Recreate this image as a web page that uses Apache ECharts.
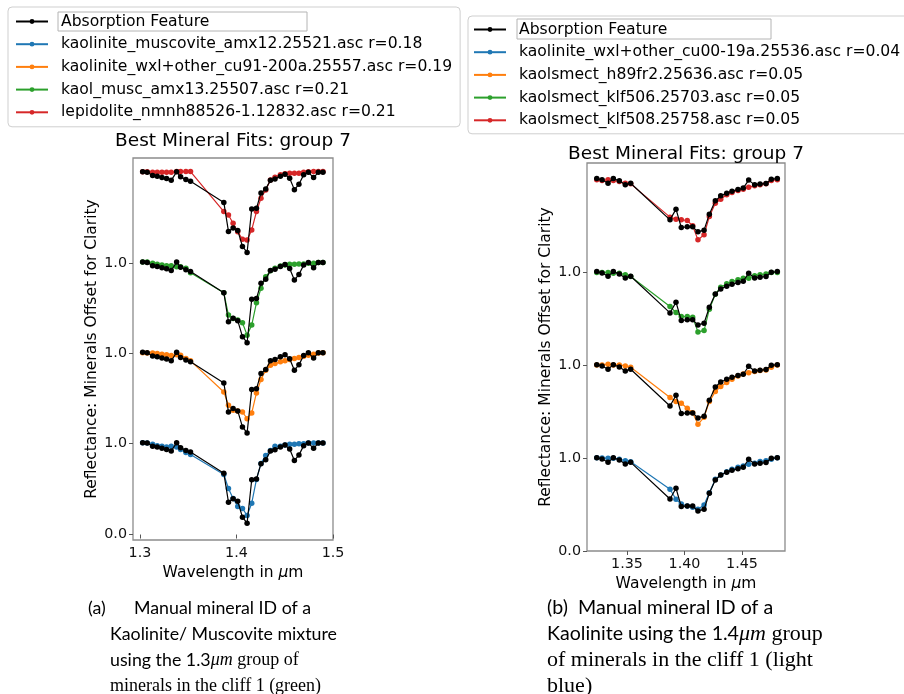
<!DOCTYPE html>
<html>
<head>
<meta charset="utf-8">
<script src="https://cdn.jsdelivr.net/npm/echarts@6/dist/echarts.min.js"></script>
<style>
  html, body { margin: 0; padding: 0; background: #fff; }
  #chart { width: 904px; height: 694px; }
</style>
</head>
<body>
<div id="chart"></div>
<script>
// ---- 1.3 µm group (panel a) ----
const wavelengthsA = [1.3028, 1.3075, 1.3131, 1.3179, 1.3228, 1.3276, 1.3324, 1.3380, 1.3421, 1.3476, 1.3524,
  1.3869, 1.3917, 1.3965, 1.4013, 1.4062, 1.4110, 1.4158, 1.4207, 1.4254, 1.4303, 1.4352, 1.4399,
  1.4455, 1.4503, 1.4551, 1.4600, 1.4647, 1.4696, 1.4745, 1.4799, 1.4848, 1.4896];
const featureA = [1.008, 1.003, 0.967, 0.959, 0.945, 0.934, 0.915, 1.008, 0.953, 0.923, 0.904,
  0.673, 0.355, 0.392, 0.366, 0.190, 0.124, 0.601, 0.608, 0.777, 0.821, 0.915, 0.931,
  0.959, 0.981, 0.937, 0.813, 0.871, 0.975, 1.003, 0.945, 1.003, 1.003];
const kaoliniteMuscoviteA = [1.008, 1.003, 0.989, 0.975, 0.967, 0.959, 0.967, 0.959, 0.934, 0.901, 0.879,
  0.659, 0.505, 0.396, 0.308, 0.286, 0.209, 0.344, 0.604, 0.780, 0.868, 0.923, 0.967,
  0.967, 0.981, 0.989, 0.989, 0.997, 0.997, 1.003, 1.003, 1.003, 1.003];
const kaoliniteWxlA = [1.005, 1.002, 1.002, 0.995, 0.988, 0.981, 0.973, 0.981, 0.977, 0.940, 0.915,
  0.574, 0.428, 0.373, 0.365, 0.354, 0.281, 0.343, 0.563, 0.710, 0.812, 0.867, 0.885,
  0.904, 0.915, 0.929, 0.940, 0.951, 0.966, 0.977, 0.988, 1.002, 1.005];
const kaolMuscA = [1.009, 1.009, 0.995, 0.984, 0.976, 0.968, 0.968, 0.957, 0.957, 0.940, 0.891,
  0.672, 0.427, 0.390, 0.372, 0.342, 0.207, 0.317, 0.562, 0.720, 0.848, 0.913, 0.940,
  0.965, 0.976, 0.984, 0.984, 0.987, 0.987, 0.995, 0.995, 1.005, 1.005];
const lepidoliteA = [1.008, 1.008, 1.005, 1.005, 1.005, 1.005, 1.005, 1.011, 1.011, 1.011, 1.011,
  0.572, 0.535, 0.444, 0.352, 0.268, 0.261, 0.371, 0.572, 0.719, 0.810, 0.920, 0.950,
  0.975, 0.986, 0.993, 0.993, 0.993, 1.005, 1.008, 1.011, 1.011, 1.011];
const namesA = [
  'kaolinite_muscovite_amx12.25521.asc r=0.18',
  'kaolinite_wxl+other_cu91-200a.25557.asc r=0.19',
  'kaol_musc_amx13.25507.asc r=0.21',
  'lepidolite_nmnh88526-1.12832.asc r=0.21'
];
const xTicksA = [1.3, 1.4, 1.5];

// ---- 1.4 µm group (panel b) ----
const wavelengthsB = [1.3237, 1.3283, 1.3335, 1.3381, 1.3433, 1.3485, 1.3532,
  1.3874, 1.3926, 1.3972, 1.4024, 1.4071, 1.4117, 1.4170, 1.4216, 1.4268, 1.4315,
  1.4367, 1.4413, 1.4465, 1.4511, 1.4558, 1.4610, 1.4657, 1.4709, 1.4755, 1.4807];
const featureB = [1.003, 0.989, 0.953, 1.003, 0.978, 0.935, 0.953,
  0.559, 0.674, 0.477, 0.484, 0.484, 0.430, 0.448, 0.620, 0.763, 0.817,
  0.846, 0.867, 0.885, 0.900, 0.986, 0.935, 0.943, 0.950, 0.996, 1.003];
const kaoliniteWxlB = [1.003, 1.000, 0.996, 0.996, 0.986, 0.971, 0.958,
  0.663, 0.556, 0.505, 0.484, 0.470, 0.448, 0.495, 0.627, 0.771, 0.817,
  0.853, 0.878, 0.900, 0.914, 0.932, 0.943, 0.961, 0.971, 0.986, 1.003];
const kaolsmectH89B = [1.000, 1.000, 1.007, 1.000, 1.000, 0.989, 0.975,
  0.649, 0.606, 0.588, 0.534, 0.487, 0.362, 0.437, 0.606, 0.713, 0.767,
  0.810, 0.846, 0.882, 0.903, 0.917, 0.928, 0.939, 0.946, 0.975, 1.000];
const kaolsmectKlf506B = [0.993, 0.993, 0.993, 0.986, 0.986, 0.968, 0.950,
  0.627, 0.563, 0.520, 0.520, 0.513, 0.355, 0.369, 0.599, 0.760, 0.835,
  0.871, 0.896, 0.914, 0.932, 0.932, 0.957, 0.968, 0.978, 0.993, 0.993];
const kaolsmectKlf508B = [0.989, 0.982, 0.989, 0.982, 0.971, 0.953, 0.946,
  0.588, 0.566, 0.559, 0.552, 0.495, 0.344, 0.398, 0.595, 0.738, 0.781,
  0.828, 0.853, 0.874, 0.889, 0.910, 0.925, 0.935, 0.946, 0.982, 0.989];
const namesB = [
  'kaolinite_wxl+other_cu00-19a.25536.asc r=0.04',
  'kaolsmect_h89fr2.25636.asc r=0.05',
  'kaolsmect_klf506.25703.asc r=0.05',
  'kaolsmect_klf508.25758.asc r=0.05'
];
const xTicksB = [1.35, 1.40, 1.45];

const featureName = 'Absorption Feature';
const mineralColors = ['#1f77b4', '#ff7f0e', '#2ca02c', '#d62728'];
const offsetA = 0.99;   // vertical spacing between stacked spectra, panel a
const offsetB = 1.0;    // panel b
const yTicksA = [0, 1, 1 + offsetA, 1 + 2 * offsetA];
const yTicksB = [0, 1, 2, 3];

const FONT = 'DejaVu Sans';

// shift a spectrum up by k offsets so the curves do not overlap
function stacked(wl, vals, k, off) {
  return wl.map((w, i) => [w, vals[i] + k * off]);
}

function lineSeries(name, color, data, axis, z) {
  return {
    type: 'line', name, data,
    xAxisIndex: axis, yAxisIndex: axis,
    symbol: 'circle', symbolSize: 5.5, showSymbol: true, showAllSymbol: true,
    lineStyle: { color, width: 1.2 },
    itemStyle: { color },
    emphasis: { disabled: true },
    z, animation: false
  };
}

const series = [];
const mineralsA = [kaoliniteMuscoviteA, kaoliniteWxlA, kaolMuscA, lepidoliteA];
const mineralsB = [kaoliniteWxlB, kaolsmectH89B, kaolsmectKlf506B, kaolsmectKlf508B];
mineralsA.forEach((vals, k) => {
  series.push(lineSeries(namesA[k], mineralColors[k], stacked(wavelengthsA, vals, k, offsetA), 0, 2));
  series.push(lineSeries(featureName, '#000', stacked(wavelengthsA, featureA, k, offsetA), 0, 3));
});
mineralsB.forEach((vals, k) => {
  series.push(lineSeries(namesB[k], mineralColors[k], stacked(wavelengthsB, vals, k, offsetB), 1, 2));
  series.push(lineSeries(featureName, '#000', stacked(wavelengthsB, featureB, k, offsetB), 1, 3));
});

const tickStyle = { show: true, length: 4, lineStyle: { color: '#555', width: 1 } };
const labelBase = { fontFamily: FONT, fontSize: 14.3, color: '#111' };
const nameRich = {
  a: { fontFamily: FONT, fontSize: 15.5, color: '#000' },
  i: { fontFamily: FONT, fontSize: 15.5, color: '#000', fontStyle: 'italic' }
};

function xAxis(grid, min, max, ticks, digits, gap) {
  return {
    type: 'value', gridIndex: grid, min, max,
    axisLine: { show: false }, splitLine: { show: false },
    axisTick: Object.assign({ customValues: ticks }, tickStyle),
    axisLabel: Object.assign({ customValues: ticks, margin: 6, formatter: v => v.toFixed(digits) }, labelBase),
    name: '{a|Wavelength in }{i|μ}{a|m}', nameLocation: 'middle', nameGap: gap,
    nameTextStyle: { rich: nameRich }
  };
}
function yAxis(grid, min, max, ticks, gap) {
  return {
    type: 'value', gridIndex: grid, min, max,
    axisLine: { show: false }, splitLine: { show: false },
    axisTick: Object.assign({ customValues: ticks }, tickStyle),
    axisLabel: Object.assign({ customValues: ticks, margin: 6, formatter: v => (v === 0 ? '0.0' : '1.0') }, labelBase),
    name: 'Reflectance: Minerals Offset for Clarity', nameLocation: 'middle', nameGap: gap,
    nameTextStyle: { fontFamily: FONT, fontSize: 15.5, color: '#000' }
  };
}

function legend(left, top, names, padding) {
  return {
    orient: 'vertical', left, top, padding, z: 4,
    data: [featureName].concat(names),
    itemWidth: 32, itemHeight: 6, itemGap: 5.7,
    selectedMode: false,
    backgroundColor: '#fff', borderColor: '#cfcfcf', borderWidth: 1, borderRadius: 4,
    textStyle: { fontFamily: FONT, fontSize: 15.6, color: '#000', lineHeight: 17, padding: [0, 0, 0, 8] }
  };
}

const titleStyle = { fontFamily: FONT, fontSize: 18.5, fontWeight: 'normal', color: '#000' };

const sans = 'Lato';
const serif = 'Liberation Serif';
const capRich = {
  s: { fontFamily: sans, fontSize: 17.8, color: '#000' },
  r: { fontFamily: serif, fontSize: 18, color: '#000' },
  m: { fontFamily: serif, fontSize: 18, fontStyle: 'italic', color: '#000' },
  S: { fontFamily: sans, fontSize: 19.6, color: '#000' },
  R: { fontFamily: serif, fontSize: 22, color: '#000' },
  M: { fontFamily: serif, fontSize: 22, fontStyle: 'italic', color: '#000' }
};
function caption(x, y, text) {
  return { type: 'text', x, y, silent: true, z: 10,
    style: { text, rich: capRich, verticalAlign: 'middle', textVerticalAlign: 'middle' } };
}

const option = {
  animation: false,
  backgroundColor: '#fff',
  title: [
    { text: 'Best Mineral Fits: group 7', left: 233, top: 132, textAlign: 'center', padding: 0, textStyle: titleStyle },
    { text: 'Best Mineral Fits: group 7', left: 686, top: 145, textAlign: 'center', padding: 0, textStyle: titleStyle }
  ],
  legend: [
    legend(8, 7, namesA, [6, 8, 6, 7]),
    legend(468, 16, namesB, [5, 40, 5, 5])
  ],
  grid: [
    { left: 133, top: 158, width: 200, height: 382, show: true, borderColor: '#8c8c8c', borderWidth: 1.3, backgroundColor: 'transparent', outerBoundsMode: 'none' },
    { left: 587, top: 163, width: 198, height: 388, show: true, borderColor: '#8c8c8c', borderWidth: 1.3, backgroundColor: 'transparent', outerBoundsMode: 'none' }
  ],
  xAxis: [
    xAxis(0, 1.2928, 1.5, xTicksA, 1, 22),
    xAxis(1, 1.3152, 1.4874, xTicksB, 2, 19)
  ],
  yAxis: [
    yAxis(0, -0.06, 4.13, yTicksA, 33),
    yAxis(1, 0, 4.17, yTicksB, 31)
  ],
  series,
  graphic: [
    // outline around the first legend label
    { type: 'rect', z: 100, shape: { x: 58, y: 12, width: 249, height: 19 }, silent: true,
      style: { fill: 'none', stroke: '#b4b4b4', lineWidth: 1 } },
    { type: 'rect', z: 100, shape: { x: 517, y: 19, width: 254, height: 20 }, silent: true,
      style: { fill: 'none', stroke: '#b4b4b4', lineWidth: 1 } },
    caption(88, 608, '{s|(a)}'),
    caption(134, 608, '{s|Manual mineral ID of a}'),
    caption(110, 634, '{s|Kaolinite/ Muscovite mixture}'),
    caption(110, 660, '{s|using the 1.3}{m|μm}{r| group of}'),
    caption(110, 686, '{r|minerals in the cliff 1 (green)}'),
    caption(547, 608, '{S|(b)}'),
    caption(578, 608, '{S|Manual mineral ID of a}'),
    caption(547, 634, '{S|Kaolinite using the 1.4}{M|μm}{R| group}'),
    caption(547, 660, '{R|of minerals in the cliff 1 (light}'),
    caption(547, 686, '{R|blue)}')
  ]
};

const chart = echarts.init(document.getElementById('chart'), null, { renderer: 'canvas' });
chart.setOption(option);
</script>
</body>
</html>
